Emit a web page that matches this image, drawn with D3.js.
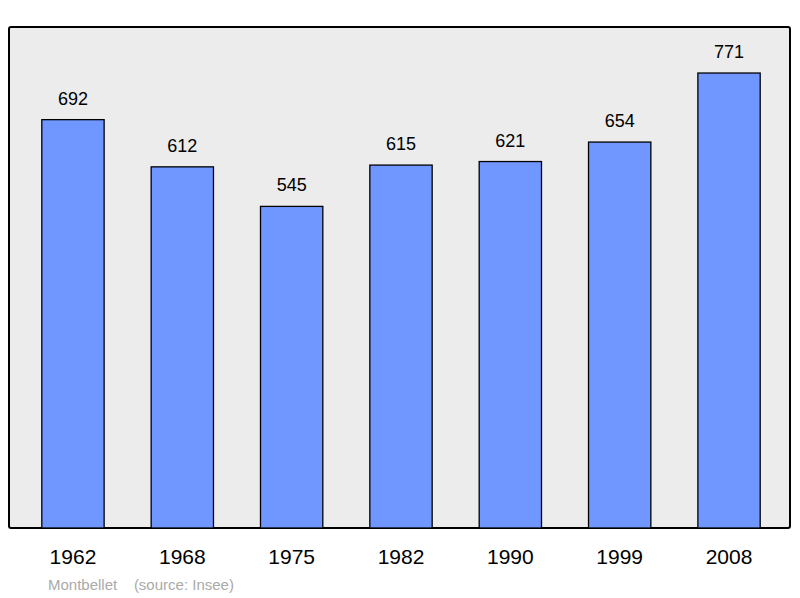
<!DOCTYPE html>
<html><head><meta charset="utf-8">
<script src="https://cdn.jsdelivr.net/npm/d3@7"></script>
<style>body{margin:0;background:#fff}</style>
</head><body>
<script>
const years = ["1962","1968","1975","1982","1990","1999","2008"]
const population = [692,612,545,615,621,654,771]
const place = "Montbellet"
const source = "(source: Insee)"

const svg = d3.select("body").append("svg").attr("width",800).attr("height",598)

svg.append("rect").attr("x",9).attr("y",27).attr("width",781).attr("height",501)
    .attr("rx",2).attr("fill","#ececec").attr("stroke","#000").attr("stroke-width",2)

const x = d3.scaleBand().domain(years).range([18.3,783.7]).paddingInner(0.43).paddingOuter(0.215)
const y = d3.scaleLinear().domain([0,849]).range([528,27])

const g = svg.selectAll("g.bar").data(years).enter().append("g")
g.append("rect")
    .attr("x", d => x(d)).attr("width", x.bandwidth())
    .attr("y", (d,i) => y(population[i])).attr("height", (d,i) => 528 - y(population[i]))
    .attr("fill","#7097ff").attr("stroke","#000").attr("stroke-width",1.3)
g.append("text")
    .attr("x", d => x(d) + x.bandwidth()/2).attr("y", (d,i) => y(population[i]) - 15)
    .attr("text-anchor","middle").attr("font-family","Liberation Sans, Arial").attr("font-size",18)
    .text((d,i) => population[i])
g.append("text")
    .attr("x", d => x(d) + x.bandwidth()/2).attr("y", 564)
    .attr("text-anchor","middle").attr("font-family","Liberation Sans, Arial").attr("font-size",21)
    .text(d => d)

svg.append("text").attr("x",48).attr("y",590).attr("fill","#aaa")
    .attr("font-family","Liberation Sans, Arial").attr("font-size",15).attr("xml:space","preserve")
    .style("white-space","pre")
    .text(place + "    " + source)
</script>
</body></html>
